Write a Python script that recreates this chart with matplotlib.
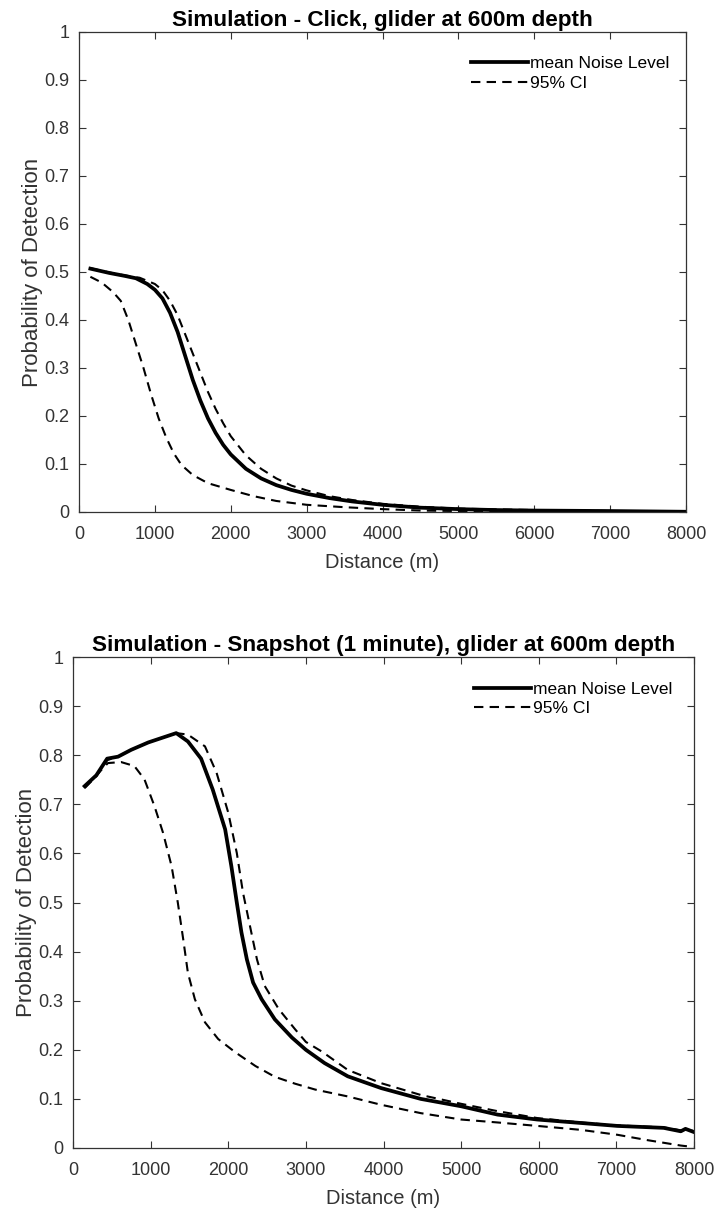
import matplotlib
matplotlib.use("Agg")
import matplotlib.pyplot as plt
from matplotlib.lines import Line2D

plt.rcParams['font.family'] = ['Liberation Sans', 'DejaVu Sans']

# ---------------- Data: Click ----------------
click_mean_x = [150, 400, 600, 750, 900, 1000, 1100, 1200, 1300, 1400, 1500, 1600, 1700,
                1800, 1900, 2000, 2200, 2400, 2600, 2800, 3000, 3300, 3600, 4000, 4500,
                5000, 5500, 6000, 7000, 8000]
click_mean_y = [0.507, 0.498, 0.492, 0.487, 0.475, 0.463, 0.445, 0.415, 0.375, 0.325, 0.275,
                0.232, 0.195, 0.165, 0.140, 0.120, 0.090, 0.070, 0.056, 0.046, 0.038, 0.029,
                0.022, 0.015, 0.009, 0.006, 0.004, 0.003, 0.002, 0.0005]

click_hi_x = [150, 400, 600, 800, 1000, 1100, 1200, 1300, 1400, 1500, 1600, 1700, 1800, 1900,
              2000, 2200, 2400, 2600, 2800, 3000, 3300, 3600, 4000, 4500, 5000, 6000, 7000, 8000]
click_hi_y = [0.508, 0.499, 0.493, 0.488, 0.475, 0.462, 0.440, 0.410, 0.370, 0.330, 0.290,
              0.250, 0.215, 0.185, 0.158, 0.118, 0.090, 0.070, 0.055, 0.045, 0.033, 0.025,
              0.017, 0.011, 0.007, 0.004, 0.002, 0.001]

click_lo_x = [150, 300, 450, 550, 650, 750, 850, 950, 1050, 1150, 1250, 1350, 1500, 1700,
              2000, 2300, 2600, 3000, 3500, 4000, 4500, 5000, 6000, 8000]
click_lo_y = [0.490, 0.478, 0.458, 0.440, 0.400, 0.350, 0.300, 0.245, 0.195, 0.155, 0.122,
              0.098, 0.077, 0.060, 0.046, 0.033, 0.023, 0.015, 0.010, 0.006, 0.003, 0.002,
              0.001, 0.000]

# ---------------- Data: Snapshot ----------------
snap_mean_x = [150, 300, 440, 580, 750, 970, 1140, 1330, 1480, 1650, 1800, 1960, 2040, 2110,
               2170, 2240, 2320, 2430, 2600, 2820, 3000, 3240, 3540, 3970, 4480, 5000, 5470,
               5980, 6540, 7010, 7610, 7830, 7890, 7990]
snap_mean_y = [0.737, 0.759, 0.793, 0.797, 0.811, 0.826, 0.835, 0.845, 0.828, 0.793, 0.730,
               0.649, 0.574, 0.500, 0.439, 0.384, 0.337, 0.303, 0.262, 0.225, 0.200, 0.173,
               0.146, 0.122, 0.100, 0.085, 0.068, 0.058, 0.051, 0.045, 0.041, 0.034, 0.039,
               0.033]

snap_hi_x = [150, 300, 440, 580, 750, 970, 1140, 1330, 1480, 1700, 1850, 2000, 2110, 2190,
             2280, 2370, 2470, 2650, 2860, 3000, 3210, 3540, 3970, 4480, 5000, 5470, 5980,
             6540, 7010, 7610, 7830, 7990]
snap_hi_y = [0.733, 0.757, 0.790, 0.797, 0.811, 0.826, 0.835, 0.845, 0.842, 0.818, 0.764,
             0.683, 0.601, 0.520, 0.452, 0.384, 0.330, 0.283, 0.242, 0.216, 0.196, 0.159,
             0.132, 0.108, 0.090, 0.075, 0.061, 0.052, 0.046, 0.042, 0.036, 0.035]

snap_lo_x = [150, 450, 620, 790, 920, 1050, 1160, 1270, 1350, 1420, 1480, 1570, 1700, 1870,
             2090, 2350, 2600, 2860, 3120, 3540, 3970, 4480, 5000, 5470, 5980, 6540, 7010,
             7400, 7830, 7990]
snap_lo_y = [0.734, 0.784, 0.786, 0.778, 0.751, 0.696, 0.642, 0.574, 0.500, 0.425, 0.357,
             0.303, 0.256, 0.222, 0.195, 0.167, 0.145, 0.131, 0.119, 0.105, 0.088, 0.071,
             0.058, 0.052, 0.045, 0.037, 0.027, 0.016, 0.005, 0.002]

titles = ["Simulation - Click, glider at 600m depth",
          "Simulation - Snapshot (1 minute), glider at 600m depth"]
legend_labels = ["mean Noise Level", "95% CI"]
x_ticks = [0, 1000, 2000, 3000, 4000, 5000, 6000, 7000, 8000]
y_ticks = [0, 0.1, 0.2, 0.3, 0.4, 0.5, 0.6, 0.7, 0.8, 0.9, 1]
y_ticklabels = ["0", "0.1", "0.2", "0.3", "0.4", "0.5", "0.6", "0.7", "0.8", "0.9", "1"]

W, H = 715, 1210
fig = plt.figure(figsize=(W / 100, H / 100), dpi=100)

def px_axes(l, t, r, b):
    return fig.add_axes([l / W, 1 - b / H, (r - l) / W, (b - t) / H])

ax1 = px_axes(79, 32, 686, 512)
ax2 = px_axes(73, 657, 694, 1148)

grey = (0.2, 0.2, 0.2)
dash = (0, (4.5, 3.0))

panels = [
    (ax1, click_mean_x, click_mean_y, click_hi_x, click_hi_y, click_lo_x, click_lo_y, titles[0]),
    (ax2, snap_mean_x, snap_mean_y, snap_hi_x, snap_hi_y, snap_lo_x, snap_lo_y, titles[1]),
]

for ax, mx, my, hx, hy, lx, ly, title in panels:
    ax.plot(hx, hy, color='black', lw=1.5, linestyle=dash)
    ax.plot(lx, ly, color='black', lw=1.5, linestyle=dash)
    ax.plot(mx, my, color='black', lw=2.7, solid_joinstyle='round')
    ax.set_xlim(0, 8000)
    ax.set_ylim(0, 1)
    ax.set_xticks(x_ticks)
    ax.set_xticklabels([str(v) for v in x_ticks])
    ax.set_yticks(y_ticks)
    ax.set_yticklabels(y_ticklabels)
    ax.tick_params(axis='both', direction='in', length=5, width=0.8, colors=grey,
                   labelsize=13, top=True, right=True)
    ax.tick_params(axis='x', pad=10)
    ax.tick_params(axis='y', pad=7)
    for sp in ax.spines.values():
        sp.set_color(grey)
        sp.set_linewidth(0.9)
    ax.set_title(title, fontsize=16.2, fontweight='bold', pad=4)
    ax.set_xlabel("Distance (m)", fontsize=14.5, color=grey, labelpad=7)
    ax.set_ylabel("Probability of Detection", fontsize=16, color=grey, labelpad=1)
    handles = [Line2D([], [], color='black', lw=2.7),
               Line2D([], [], color='black', lw=1.5, linestyle=dash)]
    ax.legend(handles, legend_labels, loc='upper left', bbox_to_anchor=(0.64, 0.957),
              frameon=False, fontsize=12.5, handlelength=3.3, handletextpad=0.1,
              labelspacing=0.25, borderaxespad=0, borderpad=0.2)

fig.savefig("out.png", dpi=100)
